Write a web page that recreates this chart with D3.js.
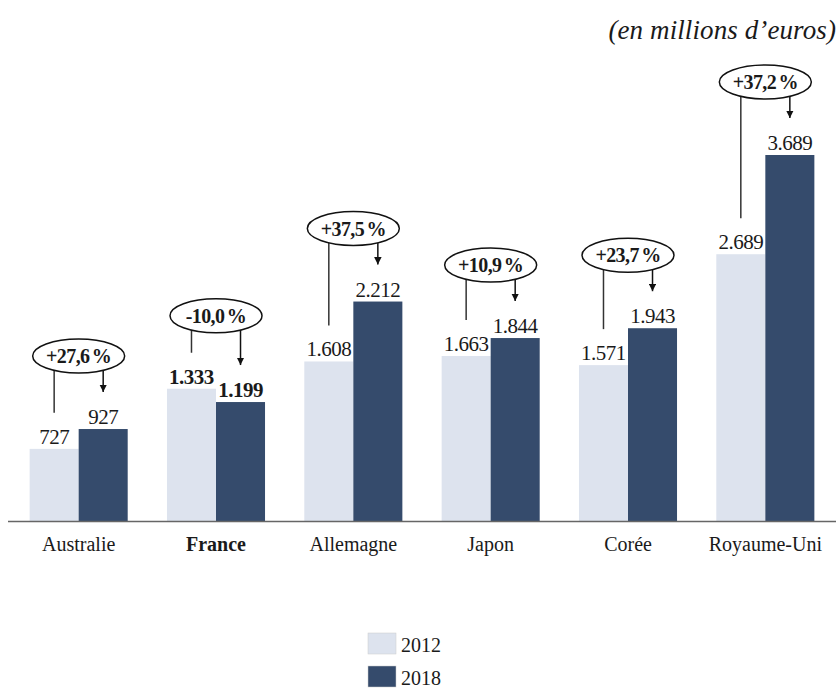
<!DOCTYPE html>
<html>
<head>
<meta charset="utf-8">
<script src="https://cdn.jsdelivr.net/npm/d3@7"></script>
<style>
	body{margin:0;background:#fff;}
	svg text{font-family:"Liberation Serif","Times New Roman",serif;fill:#1a1a1a;}
</style>
</head>
<body>
<svg width="840" height="688"></svg>
<script>
// données (en millions d'euros)
const pays = ["Australie","France","Allemagne","Japon","Corée","Royaume-Uni"];
const annees = ["2012","2018"];
const v2012 = [727,1333,1608,1663,1571,2689];
const v2018 = [927,1199,2212,1844,1943,3689];
const labels2012 = ["727","1.333","1.608","1.663","1.571","2.689"];
const labels2018 = ["927","1.199","2.212","1.844","1.943","3.689"];
const variations = ["+27,6 %","-10,0 %","+37,5 %","+10,9 %","+23,7 %","+37,2 %"];
const enGras = "France";

const couleurs = {"2012":"#dde3ee","2018":"#354b6c"};

let svg = d3.select("svg");
let base = 521;

let x = d3.scaleBand()
	.domain(pays)
	.range([10,834])
	.paddingInner(0.286)
	.paddingOuter(0.143);
let xa = d3.scaleBand()
	.domain(annees)
	.range([0,x.bandwidth()]);
let y = d3.scaleLinear()
	.domain([0,3689])
	.range([base,155]);

let rows = pays.map((p,i)=>({
	pays:p,
	vals:[
		{an:"2012",v:v2012[i],lab:labels2012[i]},
		{an:"2018",v:v2018[i],lab:labels2018[i]}
	],
	varia:variations[i]
}));

// barres
let g = svg.selectAll("g.pays")
	.data(rows)
	.join("g")
	.attr("class","pays")
	.attr("transform",d=>`translate(${x(d.pays)},0)`);

g.selectAll("rect")
	.data(d=>d.vals.map(v=>Object.assign({pays:d.pays},v)))
	.join("rect")
	.attr("x",d=>xa(d.an))
	.attr("y",d=>y(d.v))
	.attr("width",xa.bandwidth())
	.attr("height",d=>base-y(d.v))
	.attr("fill",d=>couleurs[d.an]);

g.selectAll("text.val")
	.data(d=>d.vals.map(v=>Object.assign({pays:d.pays},v)))
	.join("text")
	.attr("class","val")
	.attr("x",d=>xa(d.an)+xa.bandwidth()/2)
	.attr("y",d=>y(d.v)-5)
	.attr("text-anchor","middle")
	.attr("font-size",21)
	.attr("letter-spacing",-0.5)
	.attr("font-weight",d=>d.pays==enGras?"bold":"normal")
	.text(d=>d.lab);

// bulles de variation
svg.append("defs").append("marker")
	.attr("id","fleche")
	.attr("viewBox","0 0 10 10")
	.attr("refX",10).attr("refY",5)
	.attr("markerWidth",5).attr("markerHeight",5)
	.attr("orient","auto")
	.append("path")
	.attr("d","M0,0L10,5L0,10z")
	.attr("fill","#111");

let bulle = g.append("g").attr("class","bulle");
let cy = d=>y(d3.max(d.vals,v=>v.v))-73;
let c1 = xa("2012")+xa.bandwidth()/2;
let c2 = xa("2018")+xa.bandwidth()/2;

bulle.append("line")
	.attr("x1",c1).attr("x2",c1)
	.attr("y1",d=>cy(d)+13)
	.attr("y2",d=>y(d.vals[0].v)-36)
	.attr("stroke","#333").attr("stroke-width",1.5);
bulle.append("line")
	.attr("x1",c2).attr("x2",c2)
	.attr("y1",d=>cy(d)+13)
	.attr("y2",d=>y(d.vals[1].v)-37)
	.attr("stroke","#111").attr("stroke-width",1.5)
	.attr("marker-end","url(#fleche)");
bulle.append("ellipse")
	.attr("cx",x.bandwidth()/2)
	.attr("cy",cy)
	.attr("rx",46).attr("ry",17)
	.attr("fill","#fff")
	.attr("stroke","#111").attr("stroke-width",1.5);
bulle.append("text")
	.attr("x",x.bandwidth()/2)
	.attr("y",d=>cy(d)+7)
	.attr("text-anchor","middle")
	.attr("font-size",20)
	.attr("font-weight","bold")
	.attr("letter-spacing",-0.6)
	.attr("word-spacing",-2)
	.text(d=>d.varia);

// axe
let axe = svg.append("g")
	.attr("transform",`translate(0,${base})`)
	.call(d3.axisBottom(x).tickSize(0).tickPadding(16));
axe.select(".domain").attr("stroke","#666").attr("stroke-width",1.5)
	.attr("d","M8,0.5H836");
axe.selectAll(".tick text")
	.attr("font-family","Liberation Serif")
	.attr("font-size",20)
	.attr("fill","#1a1a1a")
	.attr("font-weight",d=>d==enGras?"bold":"normal");

// titre
svg.append("text")
	.attr("x",836).attr("y",39)
	.attr("text-anchor","end")
	.attr("font-size",27)
	.attr("font-style","italic")
	.attr("letter-spacing",0.1)
	.text("(en millions d’euros)");

// légende
let leg = svg.selectAll("g.leg")
	.data(annees)
	.join("g")
	.attr("class","leg")
	.attr("transform",(d,i)=>`translate(368,${633+i*33})`);
leg.append("rect")
	.attr("width",28).attr("height",21)
	.attr("fill",d=>couleurs[d])
	.attr("stroke","#ccc").attr("stroke-width",0.5);
leg.append("text")
	.attr("x",33).attr("y",19)
	.attr("font-size",20)
	.text(d=>d);
</script>
</body>
</html>
